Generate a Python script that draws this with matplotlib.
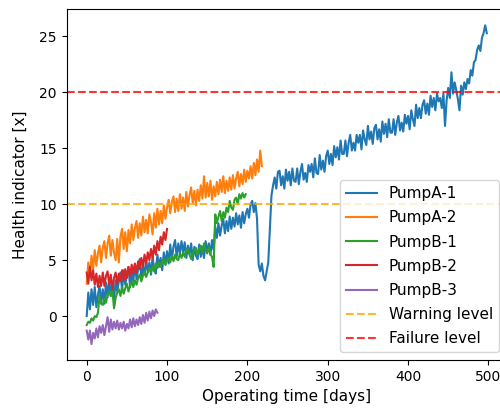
import numpy as np
import matplotlib
matplotlib.use("Agg")
import matplotlib.pyplot as plt

# ---- data ----
days_a1 = np.arange(0, 500, 2)
pump_a1 = [
    0.0, 2.1, 0.6, 2.4, 1.0, 2.6, 0.8, 1.9, 2.7, 1.2,
    2.4, 1.1, 3.0, 1.7, 3.3, 1.8, 2.9, 1.4, 3.2, 2.2,
    3.1, 3.9, 2.3, 4.1, 2.8, 3.7, 4.4, 2.6, 3.9, 3.1,
    4.6, 3.3, 4.2, 5.1, 3.4, 4.5, 3.7, 5.0, 3.9, 4.8,
    3.7, 5.3, 4.2, 3.8, 5.5, 4.4, 5.2, 4.1, 5.7, 4.6,
    5.8, 4.7, 6.4, 5.1, 6.2, 6.8, 5.3, 6.5, 5.6, 6.7,
    5.7, 6.6, 5.2, 6.3, 5.5, 6.5, 5.0, 6.2, 5.4, 5.1,
    6.4, 5.3, 6.2, 5.2, 6.7, 5.7, 6.5, 5.5, 6.8, 5.9,
    8.0, 7.0, 8.3, 7.2, 8.1, 8.7, 7.4, 8.5, 7.6, 8.9,
    7.8, 8.8, 8.0, 9.2, 8.2, 9.0, 7.9, 9.3, 8.3, 9.1,
    9.6, 8.8, 10.0, 10.3, 9.3, 10.1, 8.7, 4.6, 4.0, 4.7,
    3.6, 3.2, 4.0, 4.8, 7.8, 10.8, 11.7, 12.4, 11.4, 12.9,
    13.0, 11.7, 12.5, 11.4, 13.1, 12.1, 12.9, 11.7, 13.2, 12.1,
    12.0, 13.2, 11.8, 12.9, 13.6, 12.2, 12.8, 12.0, 13.5, 12.9,
    13.6, 12.4, 14.1, 12.8, 12.7, 14.4, 13.1, 13.9, 12.9, 14.3,
    14.8, 13.6, 14.5, 13.5, 15.2, 14.2, 15.1, 14.0, 15.7, 14.5,
    14.5, 15.7, 14.3, 15.5, 16.2, 14.8, 15.5, 14.8, 16.2, 15.5,
    16.2, 14.9, 16.6, 15.8, 15.3, 17.0, 15.8, 16.5, 15.4, 16.8,
    17.1, 15.8, 16.7, 15.6, 17.4, 16.3, 17.2, 16.0, 17.6, 16.4,
    16.4, 17.6, 16.2, 17.3, 17.9, 16.6, 17.3, 16.5, 18.0, 17.2,
    17.9, 16.7, 18.4, 17.6, 17.0, 18.9, 17.7, 18.6, 17.7, 18.9,
    19.3, 18.1, 19.0, 18.0, 19.7, 18.7, 19.5, 18.4, 19.9, 19.2,
    19.5, 18.6, 19.9, 17.0, 19.3, 20.4, 19.5, 21.8, 19.9, 20.9,
    20.2, 19.4, 18.4, 20.6, 19.8, 20.9, 20.3, 21.2, 20.8, 22.0,
    21.5, 22.7, 22.9, 23.8, 24.2, 23.7, 24.9, 25.3, 26.0, 25.3,
]

days_a2 = np.arange(0, 220, 2)
pump_a2 = [
    2.9, 4.8, 3.6, 5.4, 4.2, 5.9, 4.5, 5.6, 6.3, 4.8,
    6.1, 6.7, 5.2, 6.5, 7.2, 5.4, 6.8, 5.7, 5.0, 6.9,
    4.8, 7.1, 7.8, 6.0, 7.5, 5.8, 7.7, 6.5, 8.2, 6.8,
    7.9, 8.5, 7.0, 8.3, 7.2, 8.9, 7.5, 8.6, 7.4, 9.1,
    8.4, 7.3, 9.2, 7.9, 9.6, 8.2, 9.4, 8.3, 9.9, 8.7,
    9.7, 10.4, 9.2, 10.2, 10.7, 9.3, 10.5, 9.4, 10.9, 9.6,
    10.6, 9.4, 11.1, 9.8, 10.8, 11.5, 10.1, 11.2, 9.9, 11.3,
    10.3, 11.7, 10.5, 12.5, 10.6, 11.9, 10.7, 12.1, 10.4, 11.6,
    10.7, 12.0, 10.9, 12.2, 11.1, 12.5, 11.0, 12.1, 11.2, 12.4,
    11.3, 12.6, 11.4, 12.3, 12.9, 11.6, 12.7, 11.8, 13.1, 12.0,
    13.0, 12.3, 13.4, 12.3, 13.7, 12.6, 14.0, 12.9, 14.8, 13.4,
]

days_b1 = np.arange(0, 200, 2)
pump_b1 = [
    -0.8, -0.5, -0.6, -0.2, -0.4, 0.0, -0.1, 0.3, 1.8, 1.1,
    1.0, 1.6, 1.2, 1.9, 2.2, 1.8, 2.3, 0.7, 1.6, 2.1,
    2.4, 1.8, 2.6, 2.0, 2.5, 2.9, 2.2, 2.7, 3.1, 2.6,
    3.2, 2.8, 3.4, 3.7, 3.1, 3.6, 4.0, 3.5, 3.9, 4.3,
    3.9, 4.4, 4.0, 4.7, 4.3, 4.8, 4.4, 4.9, 5.1, 4.6,
    5.0, 5.2, 4.8, 5.4, 4.9, 5.5, 5.1, 5.0, 5.6, 5.2,
    5.7, 5.3, 5.9, 6.0, 5.5, 5.1, 5.6, 5.8, 6.1, 5.5,
    6.0, 6.3, 5.7, 6.5, 5.9, 5.6, 6.2, 5.5, 5.3, 4.4,
    9.1, 8.3, 8.9, 9.4, 8.5, 9.3, 8.8, 9.7, 9.3, 10.3,
    9.7, 9.5, 10.4, 10.6, 10.0, 10.9, 10.5, 11.0, 10.6, 10.9,
]

days_b2 = np.arange(0, 102, 2)
pump_b2 = [
    3.9, 2.9, 4.4, 3.2, 4.1, 2.8, 3.8, 2.6, 3.6, 2.7,
    3.9, 2.7, 3.6, 4.0, 2.8, 3.7, 2.4, 3.4, 3.9, 2.9,
    3.8, 3.1, 4.1, 3.2, 4.2, 3.4, 4.4, 3.6, 4.6, 3.8,
    4.7, 3.9, 4.9, 4.2, 5.2, 4.4, 5.5, 4.7, 5.7, 5.0,
    6.0, 5.2, 6.3, 5.5, 6.7, 5.9, 7.1, 6.4, 7.5, 6.8,
    7.8,
]

days_b3 = np.arange(0, 90, 2)
pump_b3 = [
    -1.3, -2.1, -1.3, -2.5, -1.5, -2.0, -1.1, -1.9, -0.9, -1.5,
    -0.8, -1.7, -0.9, -0.1, -1.4, -0.3, -1.2, -0.5, -1.1, -0.4,
    -1.2, -0.6, -1.1, -0.5, -1.3, -0.7, -1.1, -0.3, -1.0, -0.2,
    -0.9, -0.3, -0.8, -0.1, -0.7, 0.1, -0.6, 0.3, -0.4, 0.4,
    -0.2, 0.5, 0.0, 0.6, 0.3,
]

warning_level = 10
failure_level = 20

series = [
    ("PumpA-1", days_a1, pump_a1),
    ("PumpA-2", days_a2, pump_a2),
    ("PumpB-1", days_b1, pump_b1),
    ("PumpB-2", days_b2, pump_b2),
    ("PumpB-3", days_b3, pump_b3),
]

fig = plt.figure(figsize=(5.0, 4.09), dpi=100)
ax = fig.add_axes([0.1334, 0.1198, 0.8802, 0.8573])

for name, d, v in series:
    ax.plot(d, v, label=name, linewidth=1.5)

ax.axhline(warning_level, color="orange", linestyle="--", alpha=0.8, label="Warning level")
ax.axhline(failure_level, color="red", linestyle="--", alpha=0.8, label="Failure level")

ax.set_xlabel("Operating time [days]", fontsize=11)
ax.set_ylabel("Health indicator [x]", fontsize=11, labelpad=8)
ax.legend(loc="lower right", fontsize=11, labelspacing=0.6)

fig.savefig("out.png", dpi=100)
